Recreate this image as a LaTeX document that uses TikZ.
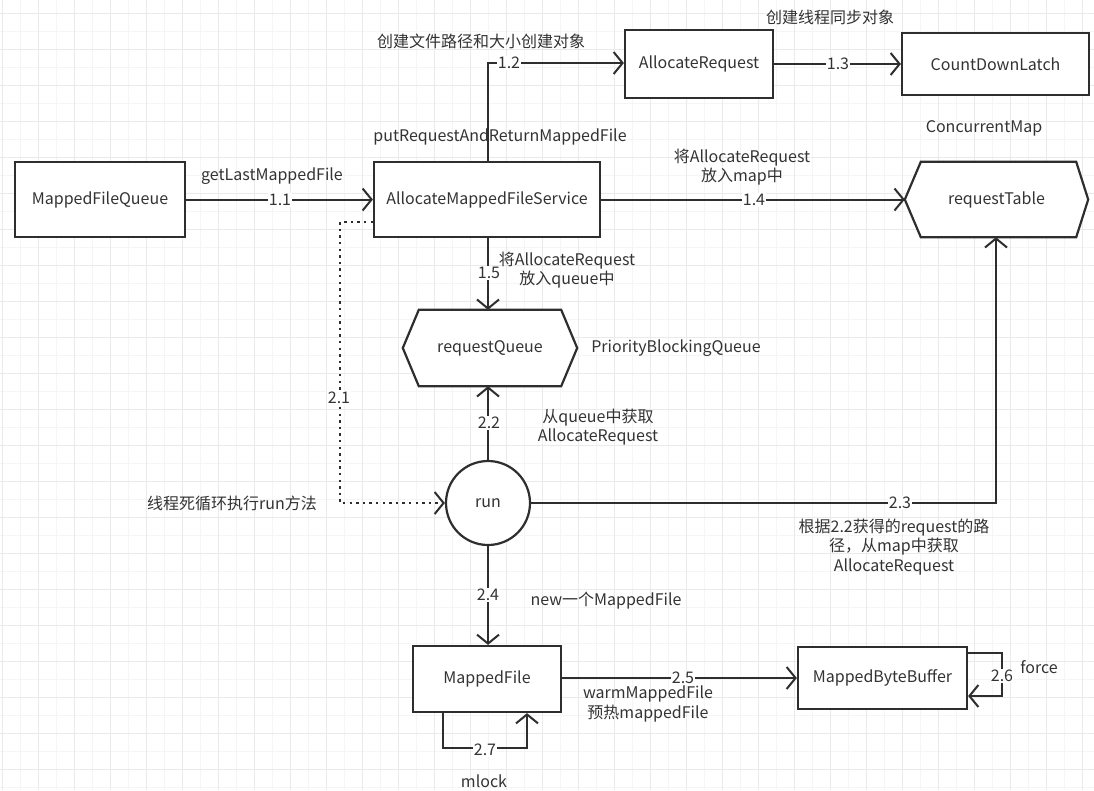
\documentclass[tikz,border=0pt]{standalone}
\usepackage{fontspec}
\setmainfont{Noto Sans CJK SC}
\usetikzlibrary{arrows.meta,calc}
\definecolor{ink}{HTML}{2E2E2E}
\definecolor{txt}{HTML}{333333}
\definecolor{gridminor}{HTML}{F5F5F5}
\definecolor{gridmajor}{HTML}{EAEAEA}
\begin{document}
\begin{tikzpicture}[x=1pt,y=-1pt,
  every node/.style={font=\fontsize{16}{19.5}\selectfont, text=txt},
  box/.style={draw=ink, line width=2.2pt, fill=white, inner sep=0pt},
  hexbase/.style={draw=none, inner sep=0pt},
  hexline/.style={draw=ink, line width=2.2pt, fill=white, line join=miter},
  conn/.style={draw=ink, line width=2pt, -{Straight Barb[length=9pt,width=22pt,line width=2pt]}},
  dotconn/.style={draw=ink, line width=2.4pt, dash pattern=on 2.4pt off 4.2pt, -{Straight Barb[length=9pt,width=22pt,line width=2pt]}},
  num/.style={fill=white, inner sep=1pt},
  lbl/.style={align=center, inner sep=0pt},
  ]
\useasboundingbox (0,0) rectangle (1094,790);
\fill[white] (0,0) rectangle (1094,790);
% grid
\foreach \i in {0,...,61} {\draw[gridminor, line width=0.8pt] ({2+18*\i},0) -- ({2+18*\i},790);}
\foreach \i in {0,...,44} {\draw[gridminor, line width=0.8pt] (0,{-5+18*\i}) -- (1094,{-5+18*\i});}
\foreach \i in {0,...,30} {\draw[gridmajor, line width=0.8pt] ({2+36*\i},0) -- ({2+36*\i},790);}
\foreach \i in {0,...,22} {\draw[gridmajor, line width=0.8pt] (0,{13+36*\i}) -- (1094,{13+36*\i});}

% nodes
\node[box, minimum width=170, minimum height=75] (mfq) at (100,199.5) {MappedFileQueue};
\node[box, minimum width=226, minimum height=75] (amfs) at (487,199.5) {AllocateMappedFileService};
\node[box, minimum width=148, minimum height=68] (ar) at (699,64) {AllocateRequest};
\node[box, minimum width=187, minimum height=62] (cdl) at (995.5,64) {CountDownLatch};

\node[hexbase, minimum width=183, minimum height=75] (rt) at (996.5,199.5) {};
\draw[hexline] (rt.west) -- ($(rt.north west)+(16,0)$) -- ($(rt.north east)+(-12,0)$) -- (rt.east)
  -- ($(rt.south east)+(-12,0)$) -- ($(rt.south west)+(16,0)$) -- cycle;
\node at (rt) {requestTable};

\node[hexbase, minimum width=174, minimum height=76] (rq) at (490,348) {};
\draw[hexline] (rq.west) -- ($(rq.north west)+(16,0)$) -- ($(rq.north east)+(-16,0)$) -- (rq.east)
  -- ($(rq.south east)+(-16,0)$) -- ($(rq.south west)+(16,0)$) -- cycle;
\node at (rq) {requestQueue};

\node[box, circle, minimum size=84] (run) at (488,503) {run};
\node[box, minimum width=148, minimum height=66] (mf) at (487,679) {MappedFile};
\node[box, minimum width=169, minimum height=62] (mbb) at (882.5,678) {MappedByteBuffer};

% connectors
\draw[conn] (mfq) -- (amfs);
\node[num] at (280,200) {1.1};
\node at (272,176) {getLastMappedFile};

\coordinate (c12) at (488,63);
\draw[conn] (amfs.north -| c12) -- (c12) -- (c12 -| ar.west);
\node[num] at (509,63) {1.2};
\node at (481,41) {创建文件路径和大小创建对象};
\node at (500,137) {putRequestAndReturnMappedFile};

\draw[conn] (ar) -- (cdl);
\node[num] at (838,64) {1.3};
\node at (830,17) {创建线程同步对象};
\node at (984,128) {ConcurrentMap};

\draw[conn] (amfs) -- (rt.west);
\node[num] at (754,200) {1.4};
\node[lbl] at (742,167) {将AllocateRequest\\放入map中};

\draw[conn] (amfs.south -| c12) -- (rq.north -| c12);
\node[num] at (489,273) {1.5};
\node[lbl] at (567,270) {将AllocateRequest\\放入queue中};
\node at (676,348) {PriorityBlockingQueue};

\draw[conn] (run.north) -- (rq.south -| run.north);
\node[num] at (489,423) {2.2};
\node[lbl] at (598,427) {从queue中获取\\AllocateRequest};

\coordinate (d1) at (340,222);
\draw[dotconn] (d1 -| amfs.west) -- (d1) -- (d1 |- run.west) -- (run.west);
\node[num] at (339,398) {2.1};
\node at (232,503) {线程死循环执行run方法};

\coordinate (c23) at (996,503);
\draw[conn] (run.east) -- (c23) -- (rt.south -| c23);
\node[num] at (900,503) {2.3};
\node[lbl] at (894,547) {根据2.2获得的request的路\\径，从map中获取\\AllocateRequest};

\draw[conn] (run.south) -- (mf.north -| run.south);
\node[num] at (488,595) {2.4};
\node at (606,601) {new一个MappedFile};

\draw[conn] (mf.east |- 0,678) -- (mbb.west |- 0,678);
\node[num] at (683,678) {2.5};
\node[lbl] at (648,704) {warmMappedFile\\预热mappedFile};

\coordinate (l6a) at (1002,653);
\coordinate (l6b) at (1002,696);
\draw[conn] (l6a -| mbb.east) -- (l6a) -- (l6b) -- (l6b -| mbb.east);
\node[num] at (1002,676) {2.6};
\node at (1039,667) {force};

\coordinate (l7a) at (443,748);
\coordinate (l7b) at (527,748);
\draw[conn] (l7a |- mf.south) -- (l7a) -- (l7b) -- (l7b |- mf.south);
\node[num] at (485,750) {2.7};
\node at (484,781) {mlock};
\end{tikzpicture}
\end{document}
